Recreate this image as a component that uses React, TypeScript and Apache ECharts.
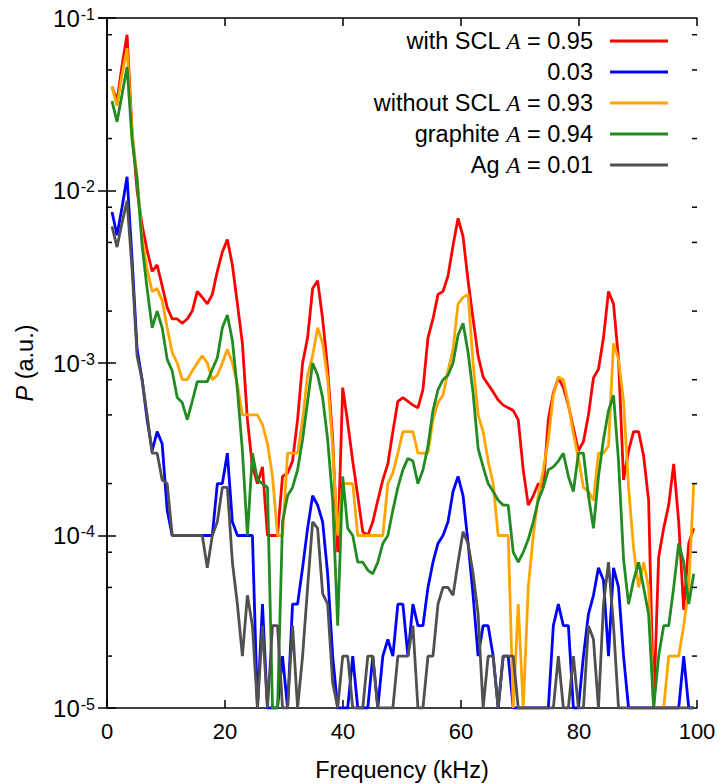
import React, { useEffect, useRef } from "react";
import * as echarts from "echarts";

// frequency bin width (kHz); bins start at one step
const FREQ_STEP = 0.85;

const withSCL = [
  0.040, 0.033, 0.053, 0.080, 0.022, 0.010, 0.0063, 0.0045, 0.0034, 0.0037,
  0.0028, 0.0021, 0.0018, 0.0018, 0.0017, 0.0018, 0.0020, 0.0026, 0.0024, 0.0022,
  0.0025, 0.0034, 0.0044, 0.0052, 0.0037, 0.0022, 0.0013, 0.00047, 0.00025, 0.00020,
  0.00025, 0.00010, 0.00010, 0.00010, 0.00022, 0.00023, 0.00027, 0.00047, 0.0010, 0.0014,
  0.0027, 0.0030, 0.0018, 0.00092, 0.00036, 0.00008, 0.00072, 0.00045, 0.00027, 0.00017,
  0.000105, 0.00010, 0.00012, 0.00016, 0.00021, 0.00026, 0.00040, 0.00060, 0.00063, 0.00060,
  0.00057, 0.00055, 0.00070, 0.0014, 0.0018, 0.0025, 0.0026, 0.0032, 0.0048, 0.0069,
  0.0054, 0.0030, 0.0018, 0.0011, 0.00083, 0.00075, 0.00068, 0.00061, 0.00057, 0.00055,
  0.00053, 0.00047, 0.00024, 0.00015, 0.00017, 0.00020, 0.00019, 0.00047, 0.00067, 0.00082,
  0.00072, 0.00057, 0.00042, 0.00031, 0.00035, 0.00050, 0.00082, 0.00092, 0.0014, 0.0026,
  0.0022, 0.00105, 0.00021, 0.00031, 0.00040, 0.00040, 0.00029, 0.00016, 0.00001, 0.000075,
  0.00011, 0.00015, 0.00026, 0.00012, 0.000037, 0.00009, 0.00011,
];

const withSCLlow = [
  0.0075, 0.0055, 0.008, 0.012, 0.004, 0.0012, 0.0008, 0.00047, 0.00031, 0.0004,
  0.00034, 0.00014, 0.0001, 0.0001, 0.0001, 0.0001, 0.0001, 0.0001, 0.0001, 0.0001,
  0.0001, 0.0002, 0.0002, 0.0003, 0.00012, 0.0001, 0.0001, 0.0001, 0.0001, 0.00001,
  0.00004, 0.00001, 0.00001, 0.00001, 0.00002, 0.00001, 0.00004, 0.00004, 0.000065, 0.00011,
  0.00017, 0.00015, 0.00012, 0.00006, 0.00002, 0.00001, 0.00001, 0.00001, 0.00002, 0.00001,
  0.00001, 0.00001, 0.00002, 0.00001, 0.00002, 0.000025, 0.00002, 0.00004, 0.00004, 0.00002,
  0.00004, 0.00003, 0.00003, 0.00005, 0.00007, 0.00009, 0.0001, 0.00012, 0.00018, 0.00022,
  0.00017, 0.00009, 0.000045, 0.00002, 0.00003, 0.00003, 0.00002, 0.00001, 0.00002, 0.00002,
  0.00001, 0.00001, 0.00001, 0.00001, 0.00001, 0.00001, 0.00001, 0.00001, 0.00003, 0.00004,
  0.00003, 0.00003, 0.00001, 0.00001, 0.00002, 0.000035, 0.000045, 0.000065, 0.000055, 0.00002,
  0.000065, 0.00005, 0.00002, 0.00001, 0.00001, 0.00001, 0.00001, 0.00001, 0.00001, 0.00001,
  0.00001, 0.00001, 0.00001, 0.00001, 0.00002, 0.00001, 0.00001,
];

const withoutSCL = [
  0.040, 0.031, 0.047, 0.067, 0.022, 0.012, 0.0052, 0.0035, 0.0026, 0.0027,
  0.0023, 0.0016, 0.00115, 0.0010, 0.0008, 0.0008, 0.0009, 0.0010, 0.0011, 0.0010,
  0.0008, 0.00085, 0.0010, 0.0012, 0.0010, 0.00075, 0.0005, 0.0005, 0.0005, 0.0005,
  0.00044, 0.00034, 0.00022, 0.0001, 0.0001, 0.0003, 0.0003, 0.0003, 0.00047, 0.00085,
  0.0011, 0.0016, 0.0013, 0.0008, 0.00032, 0.0001, 0.0002, 0.0002, 0.0002, 0.0001,
  0.0001, 0.0001, 0.0001, 0.0001, 0.0001, 0.0002, 0.00023, 0.0003, 0.0004, 0.0004,
  0.0004, 0.0003, 0.0003, 0.0003, 0.00047, 0.00059, 0.00065, 0.0009, 0.0012, 0.0022,
  0.0024, 0.0025, 0.0010, 0.0005, 0.0004, 0.00027, 0.0002, 0.0001, 0.0001, 0.0001,
  0.00001, 0.00004, 0.00001, 0.00005, 0.0001, 0.00017, 0.00024, 0.00036, 0.00065, 0.00083,
  0.0008, 0.00058, 0.00039, 0.00028, 0.00019, 0.00018, 0.00016, 0.0003, 0.0003, 0.00033,
  0.0013, 0.00105, 0.0006, 0.00019, 0.000085, 0.00005, 0.00007, 0.00005, 0.00001, 0.00001,
  0.00001, 0.00002, 0.00002, 0.00002, 0.00003, 0.00005, 0.0002,
];

const graphite = [
  0.033, 0.025, 0.036, 0.052, 0.0196, 0.0115, 0.0048, 0.0027, 0.0016, 0.0020,
  0.0016, 0.00105, 0.0009, 0.00063, 0.00059, 0.00047, 0.0006, 0.00078, 0.00078, 0.00078,
  0.00092, 0.00107, 0.0016, 0.0019, 0.00135, 0.0007, 0.00031, 0.0001, 0.0003, 0.00021,
  0.0002, 0.00019, 0.00001, 0.00001, 0.00012, 0.00017, 0.00019, 0.00024, 0.00036, 0.0006,
  0.0010, 0.00085, 0.00063, 0.00036, 0.00016, 0.00003, 0.00022, 0.00011, 0.0001, 0.00007,
  0.00007, 0.000063, 0.00006, 0.00007, 0.00009, 0.0001, 0.00014, 0.00019, 0.00024, 0.00028,
  0.00027, 0.0002, 0.00024, 0.00033, 0.00053, 0.0007, 0.0008, 0.00085, 0.0010, 0.00145,
  0.0017, 0.00115, 0.00067, 0.00032, 0.00025, 0.0002, 0.00018, 0.00016, 0.00015, 0.00015,
  0.00008, 0.00007, 0.00008, 0.000095, 0.00012, 0.00016, 0.00019, 0.00024, 0.00025, 0.00027,
  0.0003, 0.00022, 0.00018, 0.0003, 0.0003, 0.00017, 0.00011, 0.00022, 0.00036, 0.00053,
  0.00065, 0.00027, 0.000073, 0.00004, 0.000055, 0.00007, 0.00005, 0.000035, 0.00001, 0.00002,
  0.00003, 0.00003, 0.00005, 0.00009, 0.00007, 0.00004, 0.00006,
];

const silver = [
  0.0062, 0.0047, 0.0065, 0.0087, 0.0035, 0.0011, 0.0008, 0.0005, 0.0003, 0.0003,
  0.00021, 0.0002, 0.0001, 0.0001, 0.0001, 0.0001, 0.0001, 0.0001, 0.0001, 0.000065,
  0.0001, 0.00012, 0.00019, 0.00019, 0.00007, 0.00004, 0.00002, 0.000045, 0.00003, 0.00001,
  0.00003, 0.00001, 0.00003, 0.00003, 0.00001, 0.00001, 0.00003, 0.00001, 0.00002, 0.00005,
  0.00012, 0.00011, 0.000046, 0.00004, 0.000014, 0.00001, 0.00002, 0.00002, 0.00001, 0.00001,
  0.00001, 0.00002, 0.00002, 0.00001, 0.00001, 0.00001, 0.00001, 0.00002, 0.00002, 0.00002,
  0.00003, 0.00001, 0.00001, 0.00002, 0.00002, 0.00004, 0.00005, 0.00005, 0.000045, 0.00007,
  0.000105, 0.00009, 0.00006, 0.000035, 0.00001, 0.00002, 0.00002, 0.00001, 0.00002, 0.00002,
  0.00002, 0.00001, 0.00001, 0.00001, 0.00001, 0.00001, 0.00001, 0.00001, 0.00001, 0.00002,
  0.00001, 0.00001, 0.00002, 0.00001, 0.00001, 0.00003, 0.000025, 0.00001, 0.00004, 0.00007,
  0.00003, 0.00001, 0.00001, 0.00001, 0.00001, 0.00001, 0.00001, 0.00001, 0.00001, 0.00001,
  0.00001, 0.00001, 0.00001, 0.00001, 0.00001, 0.00001, 0.00001,
];

const seriesNames = [
  "with SCL A = 0.95",
  "0.03",
  "without SCL A = 0.93",
  "graphite A = 0.94",
  "Ag A = 0.01",
];
const seriesColors = ["#ff0000", "#0000ff", "#ffa500", "#228b22", "#505050"];
const seriesValues = [withSCL, withSCLlow, withoutSCL, graphite, silver];

const xTicks = [0, 20, 40, 60, 80, 100];
const minorYTicks = [
  2e-5, 5e-5, 8e-5, 2e-4, 5e-4, 8e-4, 2e-3, 5e-3, 8e-3, 2e-2, 5e-2, 8e-2,
];

const SANS = "'Liberation Sans', Arial, Helvetica, sans-serif";
const SERIF = "'Liberation Serif', 'Times New Roman', serif";
const FS = 22;
const FS_BIG = 23.5;

export default function App() {
  const ref = useRef<HTMLDivElement>(null);

  useEffect(() => {
    if (!ref.current) return;
    const chart = echarts.init(ref.current, undefined, { renderer: "svg" });
    const freqs = withSCL.map((_, i) => +((i + 1) * FREQ_STEP).toFixed(3));
    const axisLine = { show: true, lineStyle: { color: "#000", width: 1.5 } };

    const lineSeries = seriesNames.map((name, k) => ({
      name,
      type: "line",
      xAxisIndex: 0,
      yAxisIndex: 0,
      showSymbol: false,
      symbol: "none",
      data: freqs.map((f, i) => [f, seriesValues[k][i]]),
      lineStyle: { color: seriesColors[k], width: 2.8 },
      itemStyle: { color: seriesColors[k] },
      z: 3 + k,
    }));

    const option: any = {
      animation: false,
      backgroundColor: "#fff",
      grid: { left: 107, right: 25, top: 18, bottom: 76, containLabel: false, outerBoundsMode: "none" },
      legend: {
        data: seriesNames,
        orient: "vertical",
        align: "right",
        right: 54,
        top: 29,
        padding: 0,
        itemGap: 7,
        icon: "rect",
        itemWidth: 58,
        itemHeight: 3,
        selectedMode: false,
        formatter: (name: string) => name.replace(" A =", " {i|A} ="),
        textStyle: {
          fontSize: FS_BIG,
          lineHeight: 22,
          color: "#000",
          fontFamily: SANS,
          padding: [0, 12, 0, 0],
          rich: {
            i: { fontSize: FS_BIG, lineHeight: 22, fontStyle: "italic", fontFamily: SERIF, color: "#000" },
          },
        },
      },
      xAxis: [
        {
          type: "value",
          min: 0,
          max: 100,
          interval: 20,
          position: "bottom",
          axisLine,
          axisTick: { show: true, inside: true, length: 8, lineStyle: { color: "#000", width: 1.5 } },
          axisLabel: {
            color: "#000",
            fontSize: FS,
            fontFamily: SANS,
            margin: 12,
            formatter: (v: number) => (xTicks.includes(v) ? String(v) : ""),
          },
          splitLine: { show: false },
          name: "Frequency (kHz)",
          nameLocation: "middle",
          nameGap: 50,
          nameTextStyle: { color: "#000", fontSize: FS_BIG, fontFamily: SANS },
        },
        {
          type: "value",
          min: 0,
          max: 100,
          interval: 20,
          position: "top",
          axisLine,
          axisTick: { show: true, inside: true, length: 8, lineStyle: { color: "#000", width: 1.5 } },
          axisLabel: { show: false },
          splitLine: { show: false },
        },
      ],
      yAxis: [
        {
          type: "log",
          logBase: 10,
          min: 1e-5,
          max: 0.1,
          position: "left",
          axisLine,
          axisTick: { show: true, inside: true, length: 9, lineStyle: { color: "#000", width: 1.5 } },
          axisLabel: {
            color: "#000",
            margin: 12,
            formatter: (v: number) => `{b|10}{s|${Math.round(Math.log10(v))}}`,
            rich: {
              b: { fontSize: 24, fontFamily: SANS, color: "#000", lineHeight: 24 },
              s: {
                fontSize: 16,
                fontFamily: SANS,
                color: "#000",
                lineHeight: 16,
                verticalAlign: "top",
                padding: [0, 0, 20, 1],
              },
            },
          },
          splitLine: { show: false },
          name: "{i|P} (a.u.)",
          nameLocation: "middle",
          nameGap: 70,
          nameRotate: 90,
          nameTextStyle: {
            color: "#000",
            fontSize: FS_BIG,
            fontFamily: SANS,
            rich: {
              i: { fontSize: FS_BIG, fontStyle: "italic", fontFamily: SANS, color: "#000" },
            },
          },
        },
        {
          type: "log",
          logBase: 10,
          min: 1e-5,
          max: 0.1,
          position: "right",
          axisLine,
          axisTick: { show: true, inside: true, length: 9, lineStyle: { color: "#000", width: 1.5 } },
          axisLabel: { show: false },
          splitLine: { show: false },
        },
      ],
      series: [
        ...lineSeries,
        {
          type: "custom",
          name: "minorTicks",
          xAxisIndex: 0,
          yAxisIndex: 0,
          silent: true,
          z: 10,
          data: minorYTicks.map((v) => [0, v]),
          renderItem: (_params: any, api: any) => {
            const v = api.value(1);
            const l = api.coord([0, v]);
            const r = api.coord([100, v]);
            const st = { stroke: "#000", lineWidth: 1.5 };
            return {
              type: "group",
              children: [
                { type: "line", shape: { x1: l[0], y1: l[1], x2: l[0] + 5, y2: l[1] }, style: st },
                { type: "line", shape: { x1: r[0], y1: r[1], x2: r[0] - 5, y2: r[1] }, style: st },
              ],
            };
          },
        },
      ],
    };

    chart.setOption(option);
    return () => chart.dispose();
  }, []);

  return (
    <div
      ref={ref}
      style={{ position: "fixed", left: 0, top: 0, width: 722, height: 784, background: "#fff" }}
    />
  );
}
